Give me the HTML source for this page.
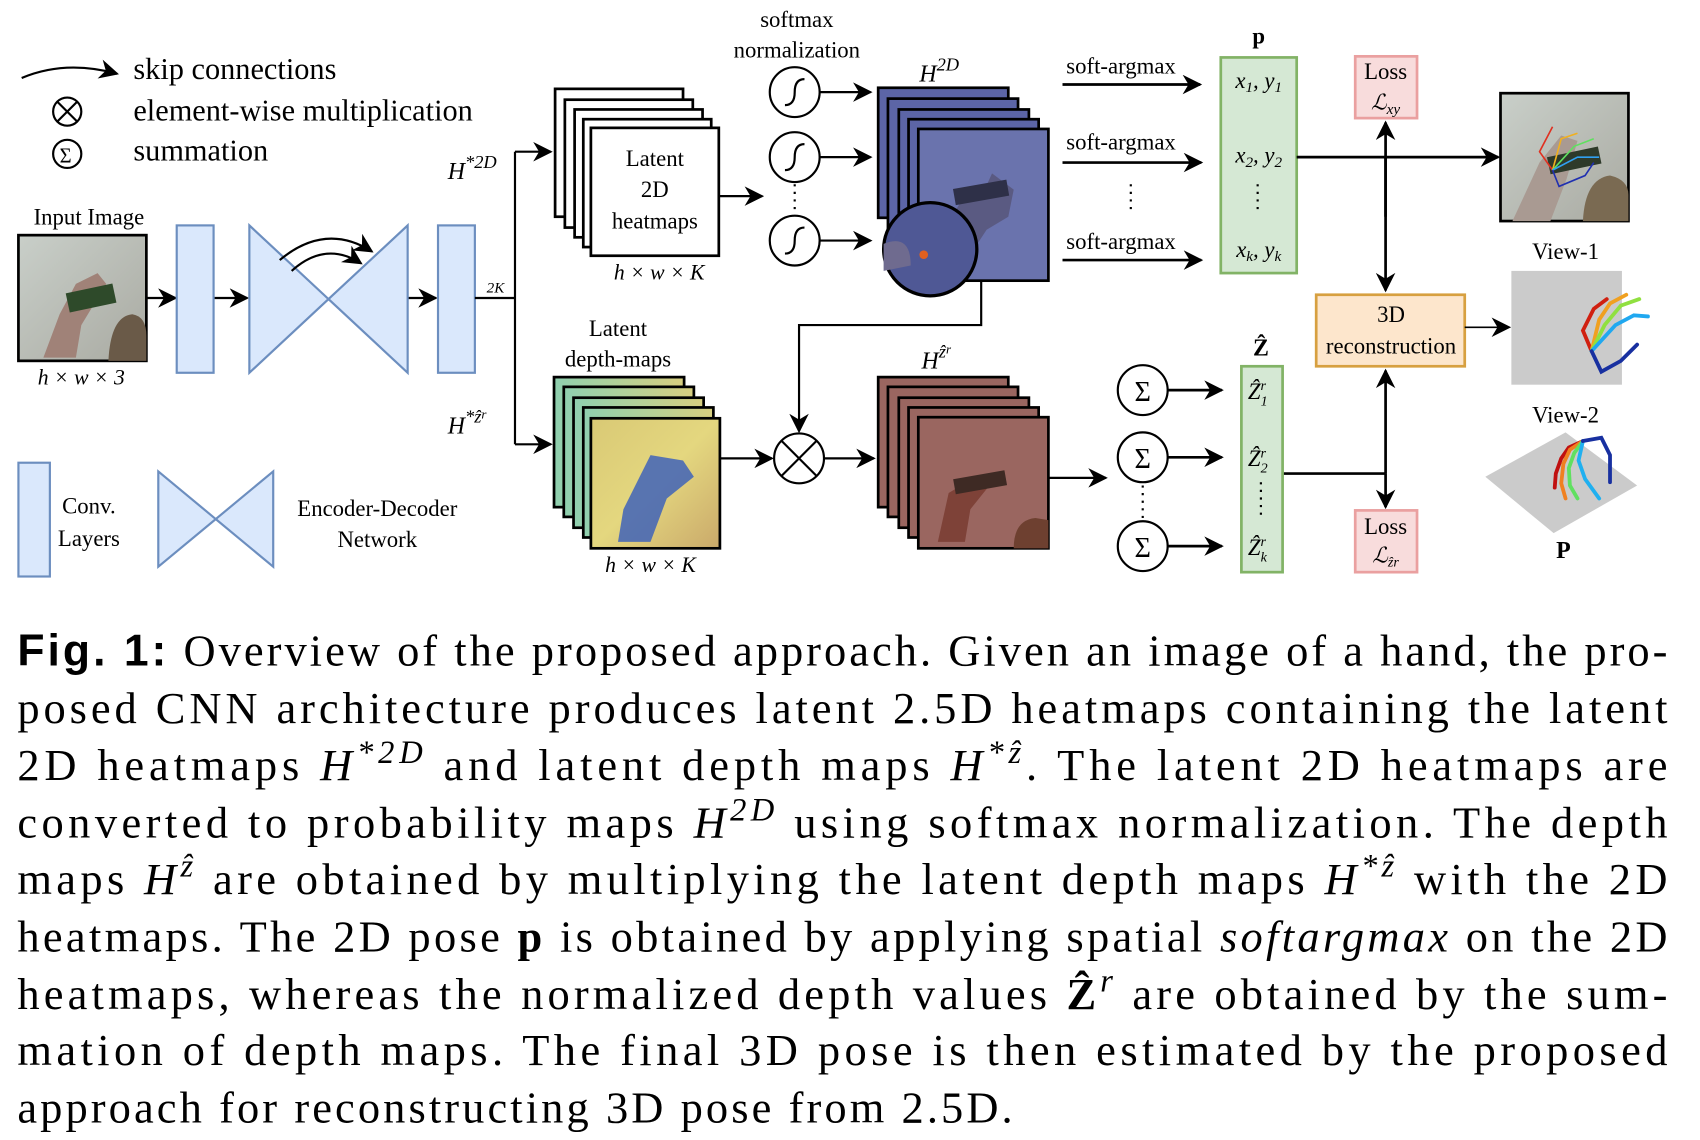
<!DOCTYPE html>
<html><head><meta charset="utf-8"><style>
html,body{margin:0;padding:0;background:#fff}
svg{display:block}
text{font-family:"Liberation Serif",serif;fill:#000}
.m{font-style:italic}
</style></head><body>
<svg width="1700" height="1140" viewBox="0 0 1568 1052" preserveAspectRatio="none" xmlns="http://www.w3.org/2000/svg">
<defs>
<marker id="b" viewBox="0 0 10 10" refX="9" refY="5" markerWidth="22" markerHeight="18" markerUnits="userSpaceOnUse" orient="auto"><path d="M0,0 L10,5 L0,10 L3,5 z" fill="#000"/></marker>
<linearGradient id="photo" x1="0" y1="0" x2="1" y2="1"><stop offset="0" stop-color="#c9cfc9"/><stop offset="1" stop-color="#a9aaa2"/></linearGradient>
<linearGradient id="heat" x1="0" y1="0" x2="1" y2="1"><stop offset="0" stop-color="#d9c975"/><stop offset=".5" stop-color="#e4d77f"/><stop offset="1" stop-color="#caa96a"/></linearGradient>
<linearGradient id="heatb" x1="0" y1="0" x2="1" y2="0"><stop offset="0" stop-color="#8fd0b0"/><stop offset="1" stop-color="#d8cf80"/></linearGradient>
</defs>
<g stroke="#000" stroke-width="2" fill="none">
<path d="M20,72 Q60,55 108,68" marker-end="url(#b)"/>
<circle cx="62" cy="103" r="13"/><path d="M53,94 L71,112 M71,94 L53,112"/>
<circle cx="62" cy="142" r="13"/>
</g>
<text x="55" y="150" font-size="19">Σ</text>
<text x="123" y="73" font-size="28">skip connections</text>
<text x="123" y="111" font-size="28">element-wise multiplication</text>
<text x="123" y="148" font-size="28">summation</text>

<text x="82" y="207" font-size="21" text-anchor="middle">Input Image</text>
<rect x="17" y="217" width="118" height="116" fill="url(#photo)" stroke="#000" stroke-width="2.5"/>
<path d="M40,330 L55,290 L70,262 L90,252 L98,262 L75,300 L70,330z" fill="#a08278"/>
<rect x="62" y="266" width="44" height="18" fill="#2e4a2a" transform="rotate(-12 84 275)"/>
<path d="M100,333 Q102,292 122,290 Q135,292 135,310 L135,333z" fill="#6a5a48"/>
<text x="75" y="355" font-size="20" class="m" text-anchor="middle">h × w × 3</text>

<g stroke="#000" stroke-width="2" fill="none">
<line x1="135" y1="275" x2="162" y2="275" marker-end="url(#b)"/>
<line x1="197" y1="275" x2="228" y2="275" marker-end="url(#b)"/>
<line x1="376" y1="275" x2="402" y2="275" marker-end="url(#b)"/>
</g>
<g fill="#dae8fc" stroke="#6c8ebf" stroke-width="2">
<rect x="163" y="208" width="34" height="136"/>
<polygon points="230,208 230,344 303,276"/><polygon points="303,276 376,208 376,344"/>
<rect x="404" y="208" width="34" height="136"/>
<rect x="17" y="427" width="29" height="105"/>
<polygon points="146,435 146,523 199,479"/><polygon points="199,479 252,435 252,523"/>
</g>
<g stroke="#000" stroke-width="2" fill="none">
<path d="M258,240 Q300,205 343,232" marker-end="url(#b)"/>
<path d="M269,250 Q300,222 333,243" marker-end="url(#b)"/>
<path d="M438,275 L475,275 M475,140 L475,410"/>
<line x1="475" y1="140" x2="508" y2="140" marker-end="url(#b)"/>
<line x1="475" y1="410" x2="508" y2="410" marker-end="url(#b)"/>
</g>
<text x="457" y="270" font-size="14" class="m" text-anchor="middle">2K</text>
<text x="413" y="165" font-size="22" class="m">H<tspan dy="-10" font-size="17">*2D</tspan></text>
<text x="413" y="400" font-size="22" class="m">H<tspan dy="-10" font-size="17">*ẑ</tspan><tspan dy="-4" font-size="12">r</tspan></text>
<text x="82" y="474" font-size="21" text-anchor="middle">Conv.</text>
<text x="82" y="504" font-size="21" text-anchor="middle">Layers</text>
<text x="348" y="476" font-size="21" text-anchor="middle">Encoder-Decoder</text>
<text x="348" y="505" font-size="21" text-anchor="middle">Network</text>

<g fill="#fff" stroke="#000" stroke-width="2.5">
<rect x="512" y="82" width="118" height="118"/><rect x="521" y="92" width="118" height="118"/><rect x="530" y="101" width="118" height="118"/><rect x="538" y="110" width="118" height="118"/><rect x="545" y="118" width="118" height="118"/>
</g>
<text x="604" y="153" font-size="21" text-anchor="middle">Latent</text>
<text x="604" y="182" font-size="21" text-anchor="middle">2D</text>
<text x="604" y="211" font-size="21" text-anchor="middle">heatmaps</text>
<text x="608" y="258" font-size="20" class="m" text-anchor="middle">h × w × K</text>
<line x1="663" y1="181" x2="703" y2="181" stroke="#000" stroke-width="2" marker-end="url(#b)"/>

<text x="735" y="25" font-size="21" text-anchor="middle">softmax</text>
<text x="735" y="53" font-size="21" text-anchor="middle">normalization</text>
<g stroke="#000" stroke-width="2" fill="none">
<circle cx="733" cy="85" r="23"/><circle cx="733" cy="145" r="23"/><circle cx="733" cy="222" r="23"/>
<path d="M724,97 Q733,97 733,85 Q733,73 742,73"/><path d="M724,157 Q733,157 733,145 Q733,133 742,133"/><path d="M724,234 Q733,234 733,222 Q733,210 742,210"/>
<line x1="733" y1="170" x2="733" y2="198" stroke-dasharray="2 5"/>
<line x1="756" y1="85" x2="803" y2="85" marker-end="url(#b)"/>
<line x1="756" y1="145" x2="803" y2="145" marker-end="url(#b)"/>
<line x1="756" y1="222" x2="803" y2="222" marker-end="url(#b)"/>
</g>

<text x="848" y="75" font-size="22" class="m">H<tspan dy="-10" font-size="17">2D</tspan></text>
<g fill="#5c65a6" stroke="#000" stroke-width="2.5">
<rect x="810" y="81" width="120" height="120"/><rect x="819" y="91" width="120" height="120"/><rect x="829" y="101" width="120" height="120"/><rect x="838" y="110" width="120" height="120"/><rect x="847" y="119" width="120" height="140" fill="#6a73ad"/>
</g>
<path d="M875,205 L890,180 L905,182 L915,160 L935,175 L930,200 L910,212 L895,235 Z" fill="#5a5a82"/>
<rect x="880" y="170" width="50" height="15" fill="#2e3048" transform="rotate(-10 905 178)"/>
<circle cx="858" cy="230" r="43" fill="#4f5895" stroke="#000" stroke-width="3"/>
<circle cx="852" cy="235" r="4" fill="#e06020"/>
<path d="M815,225 Q840,215 840,245 L815,250z" fill="#6f6b8f"/>

<g stroke="#000" stroke-width="2" fill="none">
<path d="M905,259 L905,300 L737,300 L737,398" marker-end="url(#b)"/>
<circle cx="737" cy="423" r="23"/><path d="M721,407 L753,439 M753,407 L721,439"/>
<line x1="664" y1="423" x2="712" y2="423" marker-end="url(#b)"/>
<line x1="760" y1="423" x2="806" y2="423" marker-end="url(#b)"/>
<line x1="967" y1="441" x2="1020" y2="441" marker-end="url(#b)"/>
</g>

<text x="570" y="310" font-size="21" text-anchor="middle">Latent</text>
<text x="570" y="338" font-size="21" text-anchor="middle">depth-maps</text>
<g fill="url(#heatb)" stroke="#000" stroke-width="2.5">
<rect x="511" y="348" width="120" height="120"/><rect x="520" y="357" width="120" height="120"/><rect x="529" y="367" width="120" height="120"/><rect x="538" y="376" width="120" height="120"/>
<rect x="545" y="386" width="119" height="120" fill="url(#heat)"/>
</g>
<path d="M570,500 L575,470 L590,440 L600,420 L630,425 L640,440 L615,460 L600,500 Z" fill="#3f63b9" opacity=".85"/>
<text x="600" y="528" font-size="20" class="m" text-anchor="middle">h × w × K</text>

<text x="850" y="340" font-size="22" class="m">H<tspan dy="-10" font-size="17">ẑ</tspan><tspan dy="-4" font-size="12">r</tspan></text>
<g fill="#9a6660" stroke="#000" stroke-width="2.5">
<rect x="810" y="348" width="120" height="120"/><rect x="819" y="357" width="120" height="120"/><rect x="829" y="367" width="120" height="120"/><rect x="838" y="376" width="120" height="120"/><rect x="847" y="385" width="120" height="121"/>
</g>
<path d="M865,500 L875,455 L900,440 L915,445 L895,470 L890,500 Z" fill="#7e4238"/>
<rect x="880" y="438" width="48" height="14" fill="#3e2a24" transform="rotate(-10 904 445)"/>
<path d="M935,506 Q935,480 955,478 L967,480 L967,506z" fill="#6e4030"/>

<text x="1034" y="68" font-size="21" text-anchor="middle">soft-argmax</text>
<text x="1034" y="138" font-size="21" text-anchor="middle">soft-argmax</text>
<text x="1034" y="230" font-size="21" text-anchor="middle">soft-argmax</text>
<g stroke="#000" stroke-width="2.5" fill="none">
<line x1="980" y1="78" x2="1107" y2="78" marker-end="url(#b)"/>
<line x1="980" y1="150" x2="1108" y2="150" marker-end="url(#b)"/>
<line x1="980" y1="240" x2="1108" y2="240" marker-end="url(#b)"/>
<line x1="1043" y1="170" x2="1043" y2="198" stroke-dasharray="2 5" stroke-width="2"/>
</g>

<text x="1161" y="40" font-size="21" font-weight="bold" text-anchor="middle">p</text>
<rect x="1126" y="53" width="70" height="199" fill="#d5e8d4" stroke="#82b366" stroke-width="2.5"/>
<text x="1161" y="81" font-size="21" class="m" text-anchor="middle">x<tspan font-size="14" dy="4">1</tspan><tspan dy="-4">, y</tspan><tspan font-size="14" dy="4">1</tspan></text>
<text x="1161" y="150" font-size="21" class="m" text-anchor="middle">x<tspan font-size="14" dy="4">2</tspan><tspan dy="-4">, y</tspan><tspan font-size="14" dy="4">2</tspan></text>
<text x="1161" y="237" font-size="21" class="m" text-anchor="middle">x<tspan font-size="14" dy="4">k</tspan><tspan dy="-4">, y</tspan><tspan font-size="14" dy="4">k</tspan></text>
<line x1="1160" y1="170" x2="1160" y2="198" stroke="#000" stroke-width="2" stroke-dasharray="2 5"/>

<rect x="1250" y="52" width="57" height="57" fill="#f8dcdc" stroke="#eaa0a0" stroke-width="2.5"/>
<text x="1278" y="73" font-size="21" text-anchor="middle">Loss</text>
<text x="1278" y="101" font-size="20" class="m" text-anchor="middle">ℒ<tspan font-size="14" dy="4">xy</tspan></text>
<rect x="1250" y="471" width="57" height="57" fill="#f8dcdc" stroke="#eaa0a0" stroke-width="2.5"/>
<text x="1278" y="493" font-size="21" text-anchor="middle">Loss</text>
<text x="1278" y="519" font-size="20" class="m" text-anchor="middle">ℒ<tspan font-size="13" dy="4">ẑr</tspan></text>
<rect x="1214" y="272" width="137" height="66" fill="#fde6cc" stroke="#d7a040" stroke-width="2.5"/>
<text x="1283" y="297" font-size="21" text-anchor="middle">3D</text>
<text x="1283" y="326" font-size="21" text-anchor="middle">reconstruction</text>
<g stroke="#000" stroke-width="2.5" fill="none">
<line x1="1196" y1="145" x2="1382" y2="145" marker-end="url(#b)"/>
<line x1="1278" y1="200" x2="1278" y2="113" marker-end="url(#b)"/>
<line x1="1278" y1="145" x2="1278" y2="268" marker-end="url(#b)"/>
<line x1="1351" y1="302" x2="1392" y2="302" stroke-width="1.5" marker-end="url(#b)"/>
<path d="M1183,437 L1278,437"/>
<line x1="1278" y1="437" x2="1278" y2="342" marker-end="url(#b)"/>
<line x1="1278" y1="437" x2="1278" y2="468" marker-end="url(#b)"/>
</g>

<text x="1163" y="328" font-size="22" font-weight="bold" text-anchor="middle">Ẑ</text>
<rect x="1145" y="338" width="38" height="190" fill="#d5e8d4" stroke="#82b366" stroke-width="2.5"/>
<text x="1151" y="368" font-size="21" class="m">Ẑ<tspan font-size="13" dy="-8">r</tspan><tspan font-size="13" dx="-5" dy="14">1</tspan></text>
<text x="1151" y="430" font-size="21" class="m">Ẑ<tspan font-size="13" dy="-8">r</tspan><tspan font-size="13" dx="-5" dy="14">2</tspan></text>
<text x="1151" y="512" font-size="21" class="m">Ẑ<tspan font-size="13" dy="-8">r</tspan><tspan font-size="13" dx="-5" dy="14">k</tspan></text>
<line x1="1163" y1="445" x2="1163" y2="475" stroke="#000" stroke-width="2" stroke-dasharray="2 5"/>

<g stroke="#000" stroke-width="2" fill="none">
<circle cx="1054" cy="360" r="23"/><circle cx="1054" cy="422" r="23"/><circle cx="1054" cy="504" r="23"/>
<line x1="1054" y1="448" x2="1054" y2="478" stroke-dasharray="2 5"/>
<line x1="1077" y1="360" x2="1127" y2="360" stroke-width="2.5" marker-end="url(#b)"/>
<line x1="1077" y1="422" x2="1127" y2="422" stroke-width="2.5" marker-end="url(#b)"/>
<line x1="1077" y1="504" x2="1127" y2="504" stroke-width="2.5" marker-end="url(#b)"/>
</g>
<text x="1054" y="370" font-size="26" text-anchor="middle">Σ</text>
<text x="1054" y="432" font-size="26" text-anchor="middle">Σ</text>
<text x="1054" y="514" font-size="26" text-anchor="middle">Σ</text>

<rect x="1384" y="86" width="118" height="118" fill="url(#photo)" stroke="#000" stroke-width="2.5"/>
<path d="M1395,204 L1420,150 L1440,125 L1455,130 L1445,165 L1430,204z" fill="#a99a92"/>
<rect x="1428" y="140" width="48" height="16" fill="#2e3a2a" transform="rotate(-12 1452 148)"/>
<path d="M1460,204 Q1462,165 1485,162 Q1502,166 1502,180 L1502,204z" fill="#7a6a52"/>
<g fill="none" stroke-width="1.5"><path d="M1432,157 L1420,140 L1432,117" stroke="#e03020"/><path d="M1432,157 L1440,128 L1455,123" stroke="#f0b020"/><path d="M1432,157 L1452,135 L1470,128" stroke="#60e060"/><path d="M1432,157 L1455,145 L1475,145" stroke="#30a0f0"/><path d="M1432,157 L1438,172 L1462,162 L1470,150" stroke="#2030b0"/></g>
<text x="1444" y="239" font-size="21" text-anchor="middle">View-1</text>
<rect x="1394" y="250" width="102" height="105" fill="#cbcbcb"/>
<g fill="none" stroke-width="3.5" stroke-linecap="round"><path d="M1468,324 L1460,305 L1470,285 L1482,276" stroke="#d02010"/><path d="M1468,324 L1475,295 L1485,280 L1500,272" stroke="#f0a020"/><path d="M1468,324 L1480,300 L1495,282 L1512,276" stroke="#90e040"/><path d="M1468,324 L1490,300 L1507,291 L1520,292" stroke="#20a8f0"/><path d="M1468,324 L1477,343 L1495,333 L1510,318" stroke="#1830a0"/></g>
<text x="1444" y="390" font-size="21" text-anchor="middle">View-2</text>
<polygon points="1444,399 1510,448 1433,492 1370,440" fill="#cbcbcb"/>
<g fill="none" stroke-width="3.5" stroke-linecap="round"><path d="M1460,407 L1447,413 L1440,423 L1435,437 L1434,450" stroke="#c01010"/><path d="M1460,407 L1448,415 L1442,428 L1440,446 L1444,460" stroke="#f08020"/><path d="M1460,407 L1452,418 L1447,432 L1448,448 L1455,460" stroke="#60e060"/><path d="M1460,407 L1456,425 L1462,442 L1475,460" stroke="#20b0f0"/><path d="M1460,407 L1477,404 L1485,420 L1485,445" stroke="#1830a0"/></g>
<text x="1442" y="515" font-size="22" font-weight="bold" text-anchor="middle">P</text>

<g font-size="41">
<text x="16" y="614" textLength="1522" lengthAdjust="spacing"><tspan font-family="Liberation Sans, sans-serif" font-weight="bold">Fig. 1:</tspan> Overview of the proposed approach. Given an image of a hand, the pro-</text>
<text x="16" y="667" textLength="1522" lengthAdjust="spacing">posed CNN architecture produces latent 2.5D heatmaps containing the latent</text>
<text x="16" y="720" textLength="1522" lengthAdjust="spacing">2D heatmaps <tspan class="m">H</tspan><tspan font-size="30" dy="-16" class="m">*2D</tspan><tspan dy="16"> and latent depth maps </tspan><tspan class="m">H</tspan><tspan font-size="30" dy="-16" class="m">*ẑ</tspan><tspan dy="16">. The latent 2D heatmaps are</tspan></text>
<text x="16" y="773" textLength="1522" lengthAdjust="spacing">converted to probability maps <tspan class="m">H</tspan><tspan font-size="30" dy="-16" class="m">2D</tspan><tspan dy="16"> using softmax normalization. The depth</tspan></text>
<text x="16" y="825" textLength="1522" lengthAdjust="spacing">maps <tspan class="m">H</tspan><tspan font-size="30" dy="-16" class="m">ẑ</tspan><tspan dy="16"> are obtained by multiplying the latent depth maps </tspan><tspan class="m">H</tspan><tspan font-size="30" dy="-16" class="m">*ẑ</tspan><tspan dy="16"> with the 2D</tspan></text>
<text x="16" y="878" textLength="1522" lengthAdjust="spacing">heatmaps. The 2D pose <tspan font-weight="bold">p</tspan> is obtained by applying spatial <tspan class="m">softargmax</tspan> on the 2D</text>
<text x="16" y="931" textLength="1522" lengthAdjust="spacing">heatmaps, whereas the normalized depth values <tspan font-weight="bold">Ẑ</tspan><tspan font-size="30" dy="-16" class="m">r</tspan><tspan dy="16"> are obtained by the sum-</tspan></text>
<text x="16" y="983" textLength="1522" lengthAdjust="spacing">mation of depth maps. The final 3D pose is then estimated by the proposed</text>
<text x="16" y="1036" textLength="918" lengthAdjust="spacing">approach for reconstructing 3D pose from 2.5D.</text>
</g>
</svg>
</body></html>
